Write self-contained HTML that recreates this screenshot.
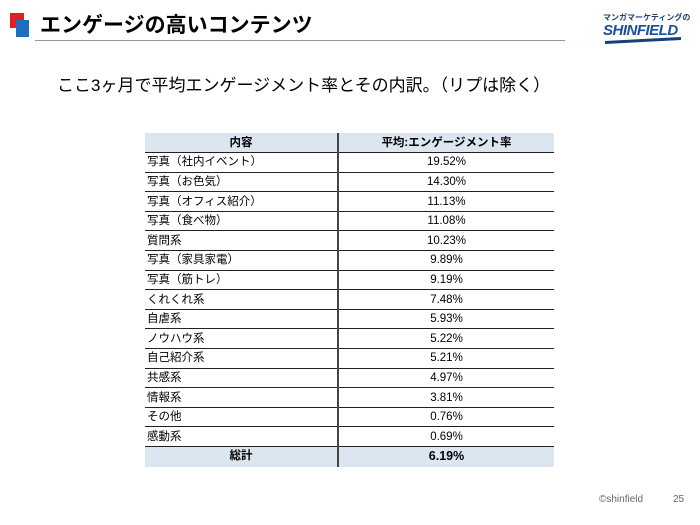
<!DOCTYPE html>
<html><head><meta charset="utf-8">
<style>
body{margin:0;width:700px;height:525px;background:#fff;position:relative;overflow:hidden;font-family:"Liberation Sans","Noto Sans CJK JP",sans-serif;color:#000}
.abs{position:absolute}
table{position:absolute;left:145px;top:133px;width:409px;border-collapse:collapse;font-size:11.5px;table-layout:fixed}
tr{height:19.6px}
td{height:18px;padding:0 2px;border-bottom:1px solid #222;line-height:14px;overflow:hidden;white-space:nowrap}
td:first-child{width:188px;border-right:2px solid #444}
td:last-child{text-align:center}
tr.head td,tr.total td{background:#dce6f1;font-weight:bold;text-align:center;border-bottom:1px solid #dce6f1}
tr.head td{border-bottom:1px solid #222}
</style></head><body>
<div class="abs" style="left:10px;top:13px;width:14px;height:15px;background:#e02020"></div>
<div class="abs" style="left:16px;top:20px;width:13px;height:17px;background:#1f6fc0"></div>
<div class="abs" style="left:40px;top:9px;font-size:21px;font-weight:bold">エンゲージの高いコンテンツ</div>
<div class="abs" style="left:35px;top:40px;width:530px;height:1px;background:#8a9aa6"></div>
<div class="abs" style="left:603px;top:12px;font-size:8px;font-weight:bold;color:#1a3f7a">マンガマーケティングの</div>
<div class="abs" style="left:603px;top:22px;font-size:15px;font-weight:bold;font-style:italic;color:#1a4fa0;letter-spacing:-0.5px">SHINFIELD</div>
<div class="abs" style="left:605px;top:39px;width:76px;height:3px;background:#1a3f7a;transform:skewY(-3deg)"></div>
<div class="abs" style="left:57px;top:71px;font-size:17px">ここ3ヶ月で平均エンゲージメント率とその内訳。（リプは除く）</div>
<table>
<tr class="head"><td>内容</td><td>平均:エンゲージメント率</td></tr>
<tr><td>写真（社内イベント）</td><td>19.52%</td></tr>
<tr><td>写真（お色気）</td><td>14.30%</td></tr>
<tr><td>写真（オフィス紹介）</td><td>11.13%</td></tr>
<tr><td>写真（食べ物）</td><td>11.08%</td></tr>
<tr><td>質問系</td><td>10.23%</td></tr>
<tr><td>写真（家具家電）</td><td>9.89%</td></tr>
<tr><td>写真（筋トレ）</td><td>9.19%</td></tr>
<tr><td>くれくれ系</td><td>7.48%</td></tr>
<tr><td>自虐系</td><td>5.93%</td></tr>
<tr><td>ノウハウ系</td><td>5.22%</td></tr>
<tr><td>自己紹介系</td><td>5.21%</td></tr>
<tr><td>共感系</td><td>4.97%</td></tr>
<tr><td>情報系</td><td>3.81%</td></tr>
<tr><td>その他</td><td>0.76%</td></tr>
<tr><td>感動系</td><td>0.69%</td></tr>
<tr class="total"><td>総計</td><td style="font-size:12.5px">6.19%</td></tr>
</table>
<div class="abs" style="left:599px;top:494px;font-size:10px;color:#666">©shinfield</div>
<div class="abs" style="left:673px;top:494px;font-size:10px;color:#666">25</div>
</body></html>
